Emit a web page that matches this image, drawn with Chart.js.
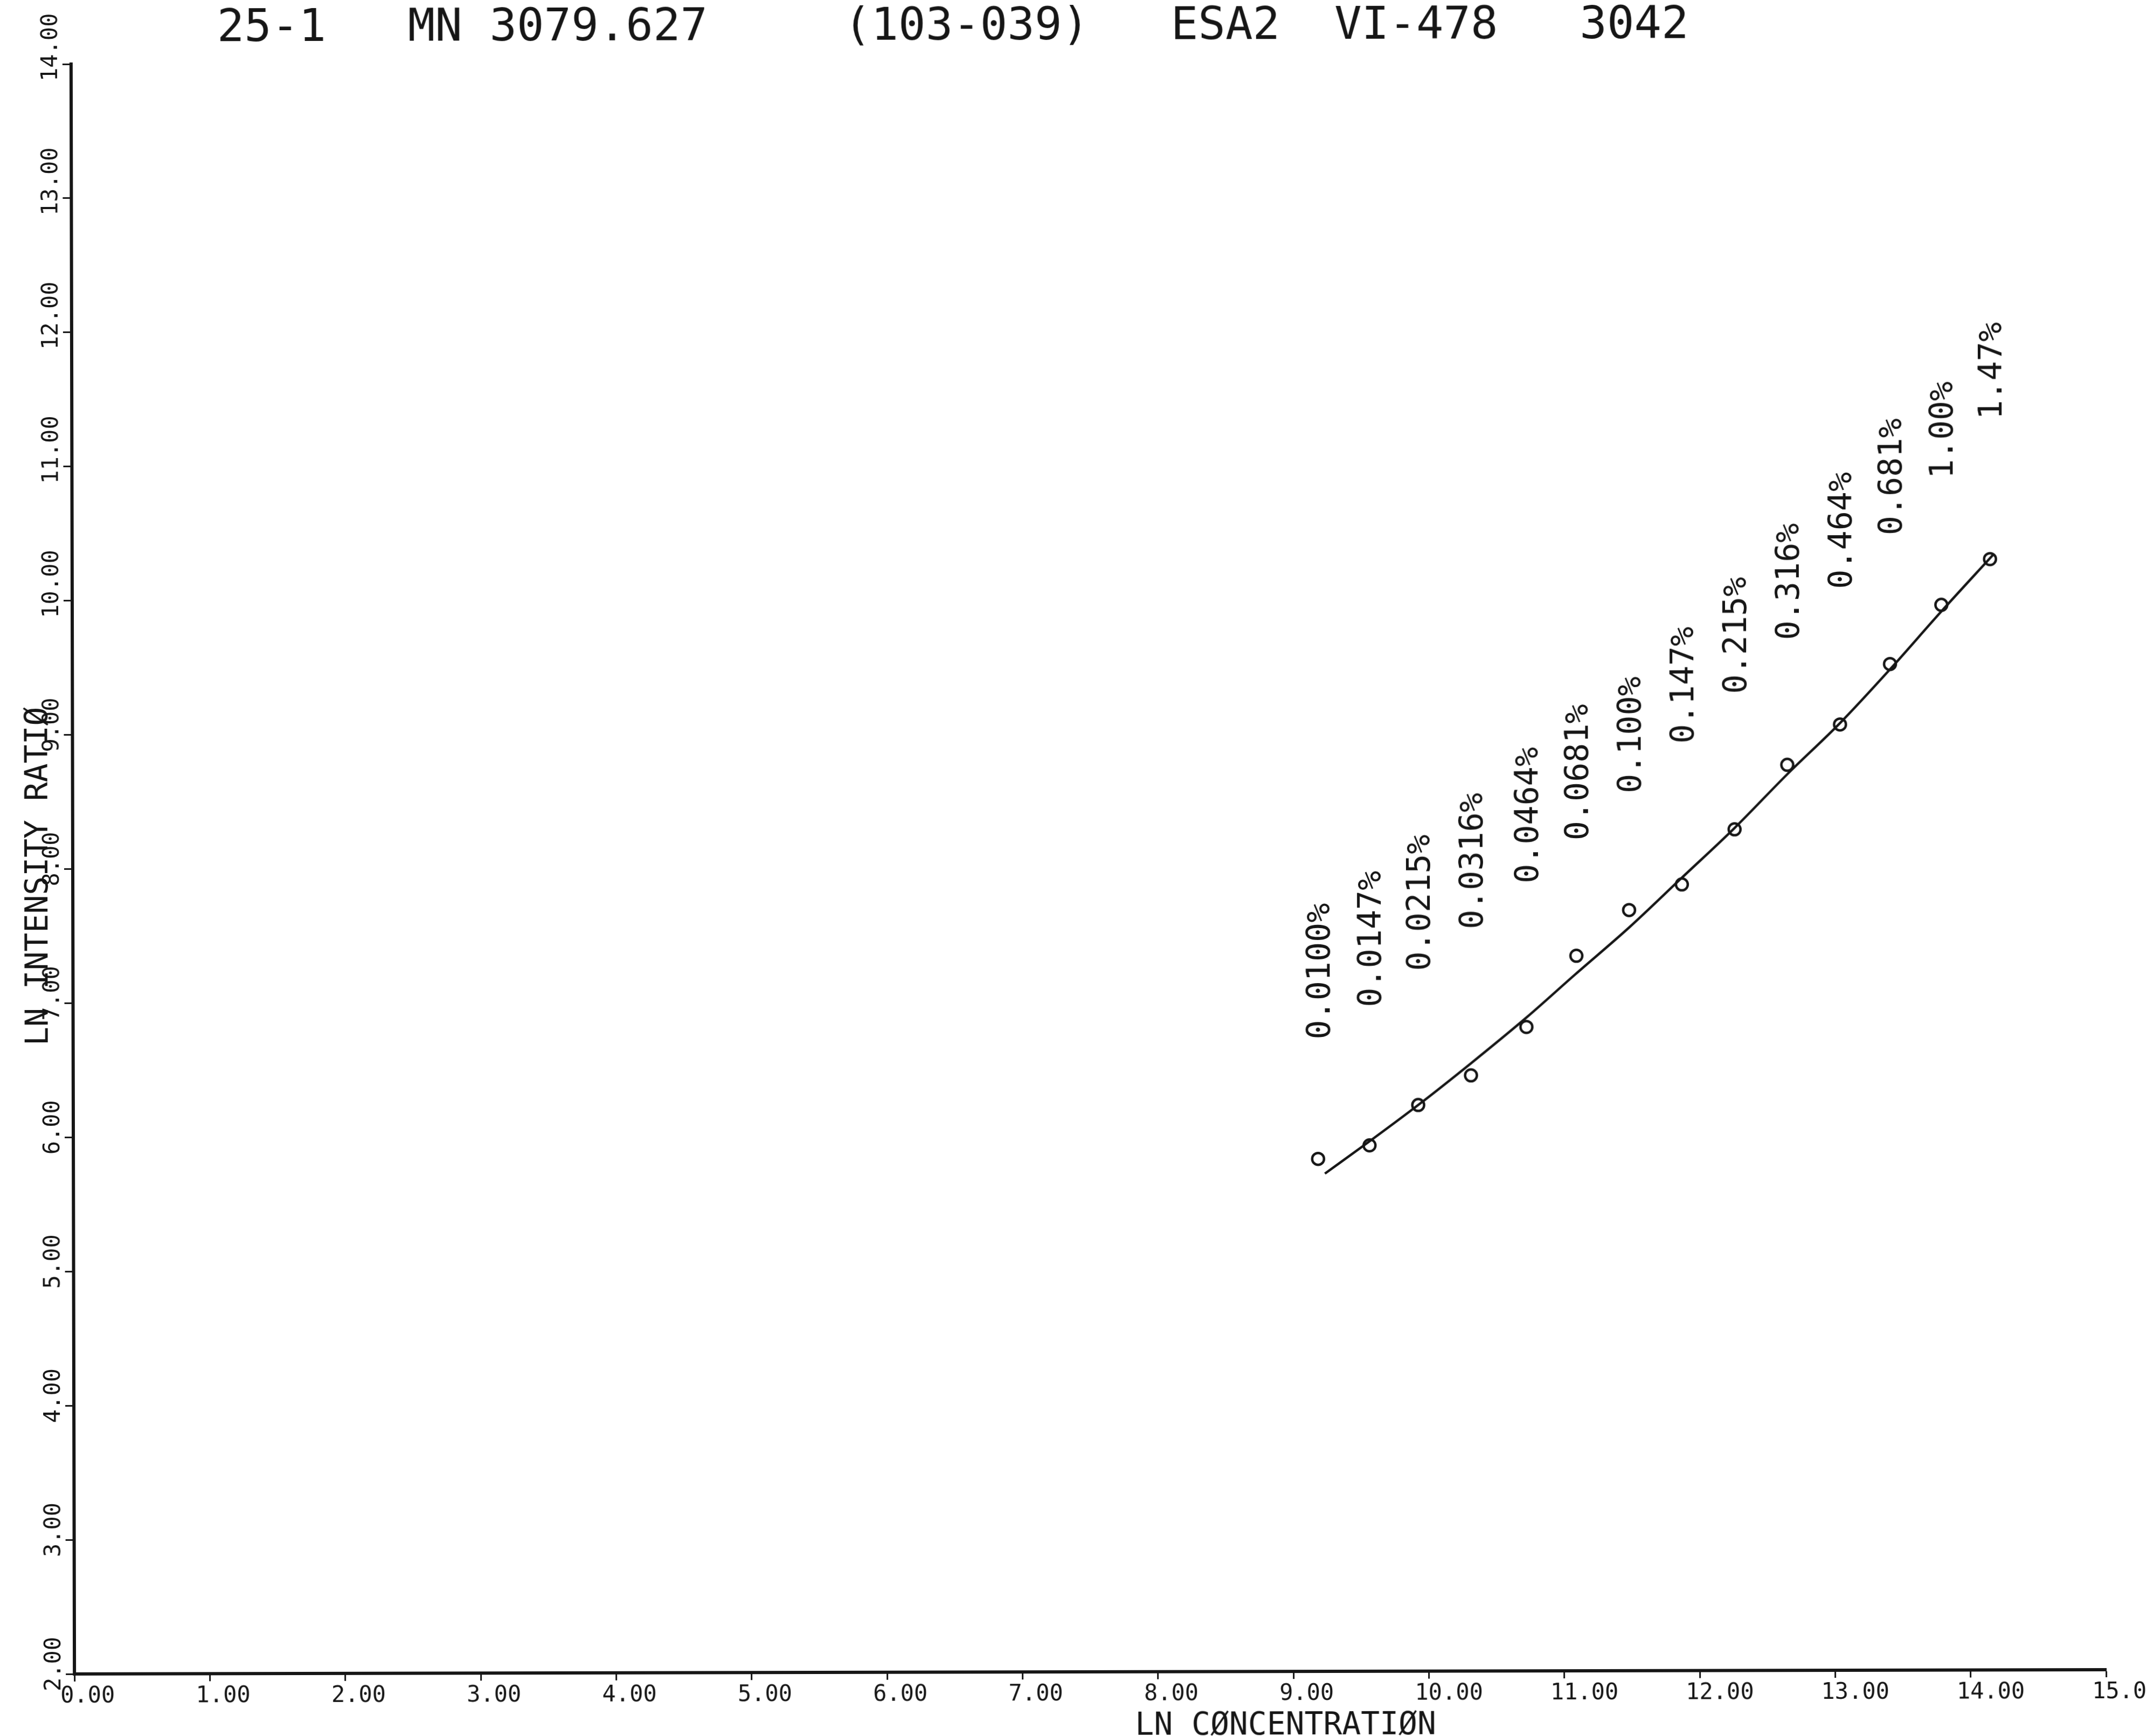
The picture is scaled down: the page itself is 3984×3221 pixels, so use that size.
<!DOCTYPE html>
<html>
<head>
<meta charset="utf-8">
<title>LN intensity ratio vs LN concentration</title>
<script src="https://cdn.jsdelivr.net/npm/chart.js@4.4.1/dist/chart.umd.min.js"></script>
<style>
  html, body { margin: 0; padding: 0; background: #ffffff; overflow: hidden; }
  /* the scanned plot sits a little crooked on the page */
  #plot { display: block; transform: rotate(-0.12deg); transform-origin: 50% 50%; }
</style>
</head>
<body>
<canvas id="plot" width="3984" height="3221"></canvas>
<script>
// Calibration plot - MN 3079.627

const headerText = '25-1   MN 3079.627     (103-039)   ESA2  VI-478   3042';
const xAxisTitle = 'LN CØNCENTRATIØN';
const yAxisTitle = 'LN INTENSITY RATIØ';

// standards: ln concentration vs ln intensity ratio
const pointX = [9.19, 9.57, 9.93, 10.32, 10.73, 11.10, 11.49, 11.88, 12.27, 12.66, 13.05, 13.42, 13.80, 14.16];
const pointY = [5.82, 5.92, 6.22, 6.44, 6.80, 7.33, 7.67, 7.86, 8.27, 8.75, 9.05, 9.50, 9.94, 10.28];
const pointLabels = ['0.0100%', '0.0147%', '0.0215%', '0.0316%', '0.0464%', '0.0681%', '0.100%',
                     '0.147%', '0.215%', '0.316%', '0.464%', '0.681%', '1.00%', '1.47%'];

// fitted calibration curve
const curveX = [9.24, 9.57, 9.93, 10.32, 10.73, 11.09, 11.49, 11.88, 12.27, 12.66, 13.05, 13.42, 13.79, 14.19];
const curveY = [5.71, 5.95, 6.22, 6.53, 6.87, 7.19, 7.54, 7.91, 8.28, 8.68, 9.06, 9.46, 9.88, 10.32];

const xTickLabels = ['0.00', '1.00', '2.00', '3.00', '4.00', '5.00', '6.00', '7.00',
                     '8.00', '9.00', '10.00', '11.00', '12.00', '13.00', '14.00', '15.00'];
const yTickLabels = ['2.00', '3.00', '4.00', '5.00', '6.00', '7.00', '8.00',
                     '9.00', '10.00', '11.00', '12.00', '13.00', '14.00'];

const ink = '#161616';
const mono = 'DejaVu Sans Mono';
const labelGap = 1.0; // concentration labels are written one unit above the curve

const plotterText = {
    id: 'plotterText',
    beforeDraw(chart) {
        const ctx = chart.ctx;
        ctx.save();
        ctx.fillStyle = '#ffffff';
        ctx.fillRect(0, 0, chart.width, chart.height);
        ctx.restore();
    },
    afterDraw(chart) {
        const ctx = chart.ctx;
        const xs = chart.scales.x;
        const ys = chart.scales.y;
        ctx.save();
        ctx.fillStyle = ink;
        ctx.textAlign = 'left';
        ctx.textBaseline = 'alphabetic';

        // header line
        ctx.font = '84px "' + mono + '"';
        ctx.fillText(headerText, 406, 73);

        // axis titles
        ctx.font = '58px "' + mono + '"';
        ctx.fillText(xAxisTitle, 2103, 3219);

        ctx.save();
        ctx.translate(88, 1936);
        ctx.rotate(-Math.PI / 2);
        ctx.fillText(yAxisTitle, 0, 0);
        ctx.restore();

        // concentration of each standard, written upwards
        ctx.font = '60px "' + mono + '"';
        const half = 60 * 0.729 / 2;
        pointLabels.forEach((txt, i) => {
            const px = xs.getPixelForValue(pointX[i]);
            const py = ys.getPixelForValue(curveY[i] + labelGap);
            ctx.save();
            ctx.translate(px + half, py);
            ctx.rotate(-Math.PI / 2);
            ctx.fillText(txt, 0, 0);
            ctx.restore();
        });
        ctx.restore();
    }
};

function initCalibrationChart() {
    const ctx = document.getElementById('plot').getContext('2d');

    new Chart(ctx, {
        type: 'scatter',
        data: {
            datasets: [
                {
                    label: 'Fit',
                    data: curveX.map((x, i) => ({ x: x, y: curveY[i] })),
                    showLine: true,
                    borderColor: ink,
                    borderWidth: 4.5,
                    pointRadius: 0,
                    cubicInterpolationMode: 'monotone',
                    fill: false
                },
                {
                    label: 'Standards',
                    data: pointX.map((x, i) => ({ x: x, y: pointY[i] })),
                    showLine: false,
                    pointStyle: 'circle',
                    pointRadius: 11,
                    pointBorderWidth: 4.5,
                    pointBorderColor: ink,
                    pointBackgroundColor: 'rgba(0,0,0,0)'
                }
            ]
        },
        options: {
            responsive: false,
            devicePixelRatio: 1,
            animation: false,
            layout: {
                padding: { left: 77, right: 79, top: 115, bottom: 0 }
            },
            plugins: {
                legend: { display: false },
                tooltip: { enabled: false }
            },
            scales: {
                x: {
                    type: 'linear',
                    min: 0,
                    max: 15,
                    grid: {
                        drawOnChartArea: false,
                        tickLength: 14,
                        tickWidth: 3,
                        tickColor: ink
                    },
                    border: { display: true, color: ink, width: 6 },
                    ticks: {
                        stepSize: 1,
                        autoSkip: false,
                        minRotation: 0,
                        maxRotation: 0,
                        align: 'start',
                        labelOffset: -26,
                        padding: 3,
                        color: ink,
                        font: { family: mono, size: 42 },
                        callback: (value, index) => xTickLabels[index]
                    },
                    afterFit: (scale) => {
                        scale.height = 119;
                        scale.paddingLeft = 0;
                        scale.paddingRight = 0;
                    }
                },
                y: {
                    type: 'linear',
                    min: 2,
                    max: 14,
                    grid: {
                        drawOnChartArea: false,
                        tickLength: 16,
                        tickWidth: 3,
                        tickColor: ink
                    },
                    border: { display: true, color: ink, width: 6 },
                    ticks: {
                        stepSize: 1,
                        autoSkip: false,
                        minRotation: 90,
                        maxRotation: 90,
                        crossAlign: 'far',
                        align: 'start',
                        labelOffset: 32,
                        padding: 0,
                        color: ink,
                        font: { family: mono, size: 42 },
                        callback: (value, index) => yTickLabels[index]
                    },
                    afterFit: (scale) => {
                        scale.width = 58;
                        scale.paddingTop = 0;
                        scale.paddingBottom = 0;
                    }
                }
            }
        },
        plugins: [plotterText]
    });
}

document.addEventListener('DOMContentLoaded', function() {
    if (document.getElementById('plot')) {
        initCalibrationChart();
    }
});
</script>
</body>
</html>
